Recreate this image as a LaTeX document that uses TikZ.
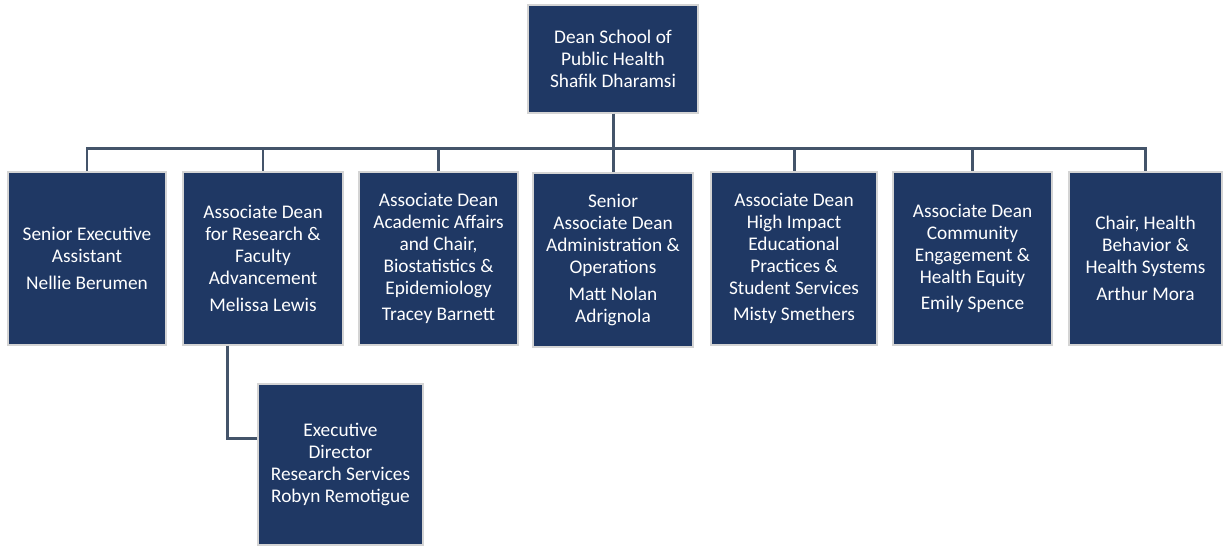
\documentclass[tikz,border=0pt]{standalone}
\usepackage{fontspec}
\setmainfont{Carlito}
\definecolor{navy}{HTML}{1F3864}
\definecolor{rim}{HTML}{D4D4D4}
\definecolor{wire}{HTML}{44546A}
\newcommand{\who}[2]{#1\\[2.6pt]#2}

\begin{document}
\begin{tikzpicture}[x=0.02cm, y=-0.02cm,
    post/.style={draw=rim, line width=0.8pt, fill=navy, text=white, align=center,
        inner sep=0pt, font=\fontsize{11}{12.5}\selectfont, minimum height=3.46cm},
    link/.style={draw=wire, line width=1.7pt}]
            \fill[white] (0, 0) rectangle (1223, 545);

            % dean
            \node[post, minimum width=3.4cm, minimum height=2.16cm] (dean) at (613, 59)
                {Dean School of\\Public Health\\Shafik Dharamsi};

            % first row
            \node[post, minimum width=3.16cm] (sea) at (87, 258.5)
                {\who{Senior Executive\\Assistant}{Nellie Berumen}};
            \node[post, minimum width=3.2cm] (adr) at (263, 258.5)
                {\who{Associate Dean\\for Research \&\\Faculty\\Advancement}{Melissa Lewis}};
            \node[post, minimum width=3.18cm] (adaa) at (438.5, 258.5)
                {\who{Associate Dean\\Academic Affairs\\and Chair,\\Biostatistics \&\\Epidemiology}{Tracey Barnett}};
            \node[post, minimum width=3.2cm, minimum height=3.48cm] (sad) at (613, 260)
                {\who{Senior\\Associate Dean\\Administration \&\\Operations}{Matt Nolan\\Adrignola}};
            \node[post, minimum width=3.32cm] (adhi) at (794, 258.5)
                {\who{Associate Dean\\High Impact\\Educational\\Practices \&\\Student Services}{Misty Smethers}};
            \node[post, minimum width=3.18cm] (adce) at (972.5, 258.5)
                {\who{Associate Dean\\Community\\Engagement \&\\Health Equity}{Emily Spence}};
            \node[post, minimum width=3.06cm] (chb) at (1145.5, 258.5)
                {\who{Chair, Health\\Behavior \&\\Health Systems}{Arthur Mora}};

            % under research
            \node[post, minimum width=3.3cm, minimum height=3.22cm] (exd) at (340.5, 464.5)
                {Executive\\Director\\Research Services\\Robyn Remotigue};

            % connectors
            \coordinate (bar) at (613, 148);
            \draw[link] (dean.south) -- (bar);
            \foreach \n in {sea, adr, adaa, sad, adhi, adce, chb}
                \draw[link] (bar) -| (\n.north);
            \draw[link] ([xshift=-0.72cm]adr.south) |- ([yshift=0.53cm]exd.west);
\end{tikzpicture}
\end{document}
